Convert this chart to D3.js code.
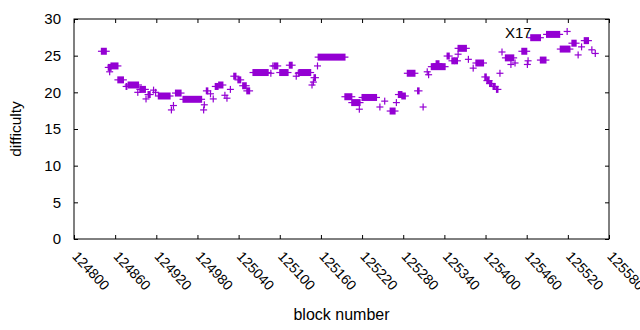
<!DOCTYPE html>
<html>
<head>
<meta charset="utf-8">
<script src="https://cdn.jsdelivr.net/npm/d3@7"></script>
<style>
  body { margin: 0; background: #fff; }
  text { font-family: "Liberation Sans", Arial, sans-serif; fill: #000; }
</style>
</head>
<body>
<div id="wrapper"></div>
<script>
// runs of blocks with the same difficulty (start block, end block, difficulty)
const runStart = [124840,124850,124854,124852,124864,124876,124879,124893,124896,124905,124908,124916,124919,124923,124942,124945,124948,124959,124989,124990,124993,124999,125003,125006,125011,125020,125023,125028,125033,125039,125046,125052,125061,125087,125090,125092,125100,125114,125124,125127,125128,125147,125149,125150,125155,125156,125195,125205,125216,125220,125246,125253,125261,125270,125273,125278,125286,125301,125309,125315,125317,125321,125328,125344,125351,125355,125360,125360,125375,125382,125386,125399,125402,125406,125411,125416,125421,125424,125429,125437,125443,125453,125461,125462,125466,125480,125489,125519,125509,125526,125535,125540,125544,125555,125560]
const runEnd   = [124847,124854,124864,124852,124872,124877,124894,124893,124904,124905,124911,124916,124919,124940,124942,124945,124956,124986,124989,124990,124995,124999,125003,125010,125017,125020,125023,125028,125036,125043,125051,125056,125083,125087,125090,125097,125112,125118,125124,125127,125145,125147,125149,125152,125155,125195,125205,125217,125216,125241,125246,125253,125268,125270,125278,125283,125297,125303,125309,125315,125317,125341,125332,125347,125354,125359,125372,125360,125375,125382,125397,125401,125405,125409,125414,125418,125421,125424,125441,125437,125443,125460,125461,125462,125480,125488,125508,125519,125523,125532,125535,125540,125550,125555,125560]
const runDiff  = [25.6,23.4,23.6,22.8,21.7,20.8,21.0,20.0,20.4,19.1,19.7,20.3,20.0,19.5,17.6,18.2,19.9,19.05,17.6,18.3,20.2,19.8,19.1,20.8,21.0,19.6,19.2,20.4,22.2,21.7,20.9,20.2,22.7,22.6,23.6,23.6,22.7,23.7,22.2,22.6,22.7,21.0,21.4,22.0,23.6,24.8,19.4,18.6,17.7,19.3,18.0,18.8,17.45,18.6,19.7,19.5,22.6,20.2,18.0,22.8,22.4,23.5,23.9,24.95,24.3,24.3,26.0,25.2,24.5,23.3,24.0,22.1,21.6,21.2,20.8,20.4,22.6,25.5,24.7,23.8,24.0,25.6,23.8,24.3,27.45,24.4,27.9,28.3,25.9,26.7,25.1,26.2,27.05,25.8,25.3]

const xTicks = [124800,124860,124920,124980,125040,125100,125160,125220,125280,125340,125400,125460,125520,125580]
const yTicks = [0,5,10,15,20,25,30]
const labelText = "X17"

const dataset = runStart.map((s, i) => ({start: s, end: runEnd[i], diff: runDiff[i]}))

const dimensions = {
    width: 640,
    height: 330,
    margin: {top: 19, right: 31, bottom: 91, left: 74}
}
dimensions.boundedWidth = dimensions.width - dimensions.margin.left - dimensions.margin.right
dimensions.boundedHeight = dimensions.height - dimensions.margin.top - dimensions.margin.bottom

const color = "#9400d3"
const half = 3.5   // half size of the "+" marker

const wrapper = d3.select("#wrapper")
    .append("svg")
    .attr("width", dimensions.width)
    .attr("height", dimensions.height)

const bounds = wrapper.append("g")
    .attr("transform", `translate(${dimensions.margin.left},${dimensions.margin.top})`)

const xScale = d3.scaleLinear()
    .domain([124800, 125580])
    .range([0, dimensions.boundedWidth])

const yScale = d3.scaleLinear()
    .domain([0, 30])
    .range([dimensions.boundedHeight, 0])

// axes (ticks point inward, mirrored like gnuplot)
const yAxis = bounds.append("g")
    .call(d3.axisLeft(yScale).tickValues(yTicks).tickSize(-4).tickSizeOuter(0).tickPadding(13))
yAxis.selectAll("text").style("font-size", "15px")

bounds.append("g")
    .attr("transform", `translate(${dimensions.boundedWidth},0)`)
    .call(d3.axisRight(yScale).tickValues(yTicks).tickSize(-4).tickSizeOuter(0).tickFormat(""))

bounds.append("g")
    .call(d3.axisTop(xScale).tickValues(xTicks).tickSize(-4).tickSizeOuter(0).tickFormat(""))

const xAxis = bounds.append("g")
    .attr("transform", `translate(0,${dimensions.boundedHeight})`)
    .call(d3.axisBottom(xScale).tickValues(xTicks).tickSize(-4).tickSizeOuter(0).tickFormat(d3.format("d")))
xAxis.selectAll("text")
    .attr("x", 0).attr("y", 0).attr("dy", 0)
    .attr("text-anchor", "start")
    .attr("transform", "translate(-3,18) rotate(47)")
    .style("font-size", "14px")

bounds.selectAll(".domain").remove()
bounds.selectAll(".tick line").attr("stroke", "#000")

bounds.append("rect")
    .attr("width", dimensions.boundedWidth)
    .attr("height", dimensions.boundedHeight)
    .attr("fill", "none")
    .attr("stroke", "#000")
    .attr("stroke-width", 1)

// data: each run of "+" markers
const marks = bounds.append("g")
    .selectAll("g")
    .data(dataset)
    .enter().append("g")

marks.append("rect")
    .attr("x", d => xScale(d.start) - 0.6)
    .attr("y", d => yScale(d.diff) - half)
    .attr("width", d => xScale(d.end) - xScale(d.start) + 1.2)
    .attr("height", half * 2)
    .attr("fill", color)

marks.append("line")
    .attr("x1", d => xScale(d.start) - half)
    .attr("x2", d => xScale(d.end) + half)
    .attr("y1", d => yScale(d.diff))
    .attr("y2", d => yScale(d.diff))
    .attr("stroke", color)
    .attr("stroke-width", 1.2)

// labels
wrapper.append("text")
    .attr("transform", `translate(21,${dimensions.margin.top + dimensions.boundedHeight / 2}) rotate(-90)`)
    .attr("text-anchor", "middle")
    .style("font-size", "15.5px")
    .text("difficulty")

wrapper.append("text")
    .attr("x", dimensions.margin.left + dimensions.boundedWidth / 2)
    .attr("y", 320)
    .attr("text-anchor", "middle")
    .style("font-size", "16px")
    .text("block number")

bounds.append("text")
    .attr("x", 505 - dimensions.margin.left)
    .attr("y", 38 - dimensions.margin.top)
    .style("font-size", "15px")
    .text(labelText)
</script>
</body>
</html>
